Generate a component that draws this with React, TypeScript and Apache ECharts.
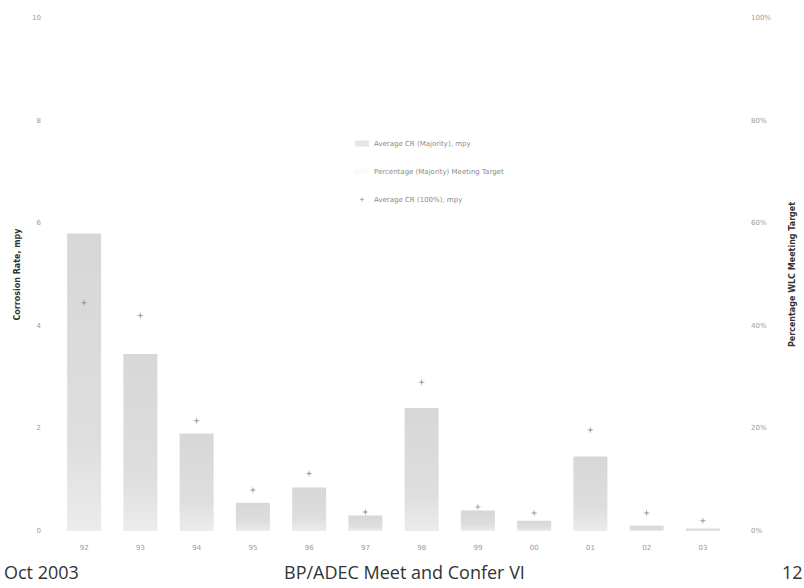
import React, { useEffect, useRef } from "react";
import * as echarts from "echarts";

const years = ["92", "93", "94", "95", "96", "97", "98", "99", "00", "01", "02", "03"];
const avgCrMajority = [5.8, 3.45, 1.9, 0.55, 0.85, 0.3, 2.4, 0.4, 0.2, 1.45, 0.1, 0.05];
const avgCr100 = [4.45, 4.2, 2.15, 0.8, 1.12, 0.37, 2.9, 0.47, 0.35, 1.97, 0.35, 0.2];
const pctMeeting: number[] = [];
const leftTicks = [0, 2, 4, 6, 8, 10];
const rightTicks = ["0%", "20%", "40%", "60%", "80%", "100%"];

const starPath =
  "path://M5 0L6 4L10 5L6 6L5 10L4 6L0 5L4 4Z";

export default function App() {
  const ref = useRef<HTMLDivElement>(null);
  useEffect(() => {
    if (!ref.current) return;
    const chart = echarts.init(ref.current, undefined, { renderer: "svg" });
    chart.setOption({
      animation: false,
      backgroundColor: "#ffffff",
      textStyle: { fontFamily: "DejaVu Sans" },
      grid: { left: 56, right: 62, top: 18, bottom: 57 },
      legend: {
        orient: "vertical",
        left: 350,
        top: 135,
        itemGap: 21,
        itemWidth: 14,
        itemHeight: 6,
        textStyle: { fontSize: 7, color: "#8a8a8a" },
        data: [
          { name: "Average CR (Majority), mpy", icon: "rect", itemStyle: { color: "#e6e6e6" } },
          { name: "Percentage (Majority) Meeting Target", icon: "rect", itemStyle: { color: "#fafafa" } },
          { name: "Average CR (100%), mpy", icon: starPath, itemStyle: { color: "#8c8c8c" } },
        ],
      },
      xAxis: {
        type: "category",
        data: years,
        axisLine: { show: false },
        axisTick: { show: false },
        axisLabel: { fontSize: 7, color: "#9a9a9a", margin: 13 },
      },
      yAxis: [
        {
          type: "value",
          min: leftTicks[0],
          max: leftTicks[leftTicks.length - 1],
          interval: 2,
          name: "Corrosion Rate, mpy",
          nameLocation: "middle",
          nameGap: 25,
          nameRotate: 90,
          nameTextStyle: { fontSize: 8, fontWeight: "bold", color: "#333" },
          axisLine: { show: false },
          axisTick: { show: false },
          splitLine: { show: false },
          axisLabel: { fontSize: 7, color: "#9a9a9a", margin: 15 },
        },
        {
          type: "value",
          min: 0,
          max: 100,
          interval: 20,
          position: "right",
          name: "Percentage WLC Meeting Target",
          nameLocation: "middle",
          nameGap: 57,
          nameRotate: 90,
          nameTextStyle: { fontSize: 8, fontWeight: "bold", color: "#333" },
          axisLine: { show: false },
          axisTick: { show: false },
          splitLine: { show: false },
          axisLabel: {
            fontSize: 7,
            color: "#9a9a9a",
            margin: 20,
            formatter: (v: number) => rightTicks[Math.round(v / 20)],
          },
        },
      ],
      series: [
        {
          name: "Average CR (Majority), mpy",
          type: "bar",
          data: avgCrMajority,
          barWidth: 34,
          itemStyle: {
            color: new echarts.graphic.LinearGradient(0, 0, 0, 1, [
              { offset: 0, color: "#d7d7d7" },
              { offset: 0.7, color: "#dedede" },
              { offset: 1, color: "#ececec" },
            ]),
          },
        },
        {
          name: "Percentage (Majority) Meeting Target",
          type: "line",
          yAxisIndex: 1,
          data: pctMeeting,
          itemStyle: { color: "#fafafa" },
          lineStyle: { color: "#f0f0f0" },
        },
        {
          name: "Average CR (100%), mpy",
          type: "scatter",
          data: avgCr100,
          symbol: starPath,
          symbolSize: 7,
          itemStyle: { color: "#8c8c8c" },
          z: 5,
        },
      ],
      graphic: [
        { type: "text", left: 4, top: 563, style: { text: "Oct 2003", fontSize: 18, fill: "#333", fontFamily: "Open Sans" } },
        { type: "text", left: 284, top: 563, style: { text: "BP/ADEC Meet and Confer VI", fontSize: 18, fill: "#333", fontFamily: "Open Sans" } },
        { type: "text", left: 782, top: 563, style: { text: "12", fontSize: 18, fill: "#333", fontFamily: "Open Sans" } },
      ],
    });
    return () => chart.dispose();
  }, []);
  return (
    <div
      ref={ref}
      style={{ position: "fixed", left: 0, top: 0, width: 804, height: 588 }}
    />
  );
}
